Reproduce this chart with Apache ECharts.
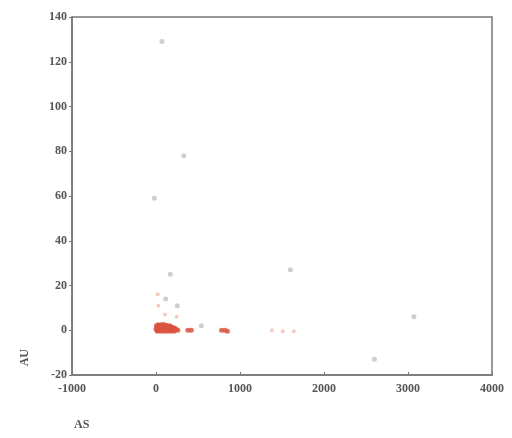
<!DOCTYPE html>
<html>
<head>
<meta charset="utf-8">
<script src="https://cdn.jsdelivr.net/npm/echarts@6/dist/echarts.min.js"></script>
<style>
html,body{margin:0;padding:0;background:#fff;}
#chart{width:512px;height:438px;}
</style>
</head>
<body>
<div id="chart"></div>
<script>
// Data
const xTicks = [-1000, 0, 1000, 2000, 3000, 4000];
const yTicks = [-20, 0, 20, 40, 60, 80, 100, 120, 140];
const xName = 'AS';
const yName = 'AU';

const greyAS = [70, 330, -20, 170, 1600, 3070, 2600, 115, 254, 540];
const greyAU = [129, 78, 59, 25, 27, 6, -13, 14, 11, 2];

const redAS = [0, 10, 20, 30, 40, 50, 60, 70, 80, 90, 100, 110, 120, 130, 140, 150, 160, 170, 180, 190, 200, 210, 220, 240, 260,
               5, 25, 45, 65, 85, 105, 125, 145, 165, 185, 205, 230, 15, 55, 95, 135, 175, 215, 780, 820, 850, 380, 420];
const redAU = [0.5, 1, 0, 1.5, 0.5, 2, 0, 1, 2.5, 0.5, 1.5, 0, 1, 2, 0.5, 1, 0, 1.5, 0.5, 1, 0, 0.5, 1, 0.5, 0,
               2, 2.5, 2, 2.5, 1.5, 2.5, 2, 1.5, 2, 1.5, 1, 0.5, -0.5, -0.5, -0.5, -0.5, -0.5, -0.5, 0, 0, -0.5, 0, 0];

const paleAS = [20, 28, 107, 246, 1380, 1510, 1640];
const paleAU = [16, 11, 7, 6, 0, -0.5, -0.5];

function pairs(xs, ys){ return xs.map((x,i)=>[x, ys[i]]); }

const chart = echarts.init(document.getElementById('chart'), null, {renderer:'canvas'});
const labelFont = {fontFamily:'Liberation Serif', fontWeight:'bold', fontSize:12, color:'#555'};
chart.setOption({
  animation:false,
  backgroundColor:'#fff',
  grid:{left:72, right:20, top:17, bottom:63, show:true, borderColor:'#777', borderWidth:1.5, backgroundColor:'transparent'},
  graphic:[
    {type:'text', left:19, top:349, rotation:Math.PI/2,
     style:{text:yName, font:'bold 12px "Liberation Serif"', fill:'#555'}},
    {type:'text', left:74, top:419,
     style:{text:xName, font:'bold 12px "Liberation Serif"', fill:'#555'}}
  ],
  xAxis:{
    type:'value', min:-1000, max:4000, interval:1000,
    axisLine:{show:true, onZero:false, lineStyle:{color:'#777', width:1.5}},
    axisTick:{show:true, inside:true, length:3, lineStyle:{color:'#777'}},
    splitLine:{show:false},
    axisLabel:Object.assign({margin:8, formatter:v=>String(v)}, labelFont)
  },
  yAxis:{
    type:'value', min:-20, max:140, interval:20,
    axisLine:{show:true, onZero:false, lineStyle:{color:'#777', width:1.5}},
    axisTick:{show:true, length:3, lineStyle:{color:'#777'}},
    splitLine:{show:false},
    axisLabel:Object.assign({margin:5, formatter:v=>String(v)}, labelFont)
  },
  series:[
    {type:'scatter', data:pairs(greyAS, greyAU), symbolSize:5,
     itemStyle:{color:'#bdbdbd', opacity:0.75}},
    {type:'scatter', data:pairs(paleAS, paleAU), symbolSize:4,
     itemStyle:{color:'#f2c6b8', opacity:0.9}},
    {type:'scatter', data:pairs(redAS, redAU), symbolSize:5,
     itemStyle:{color:'#d9533f', opacity:0.85}}
  ]
});
</script>
</body>
</html>
